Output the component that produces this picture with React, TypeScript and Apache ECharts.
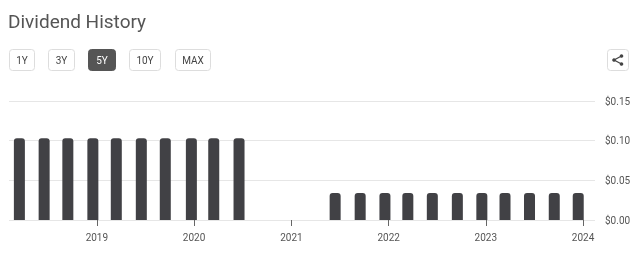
import React, { useEffect, useRef } from "react";
import * as echarts from "echarts";

const dates = [
  "2018-03-16", "2018-06-17", "2018-09-14", "2018-12-17",
  "2019-03-15", "2019-06-17", "2019-09-15", "2019-12-22",
  "2020-03-15", "2020-06-18",
  "2021-06-14", "2021-09-16", "2021-12-18",
  "2022-03-14", "2022-06-14", "2022-09-16", "2022-12-17",
  "2023-03-14", "2023-06-14", "2023-09-15", "2023-12-14",
];
const amounts = [
  0.103, 0.103, 0.103, 0.103,
  0.103, 0.103, 0.103, 0.103,
  0.103, 0.103,
  0.034, 0.034, 0.034,
  0.034, 0.034, 0.034, 0.034,
  0.034, 0.034, 0.034, 0.034,
];
const yearTicks = ["2019-01-01", "2020-01-01", "2021-01-01", "2022-01-01", "2023-01-01", "2024-01-01"];
const rangeButtons = ["1Y", "3Y", "5Y", "10Y", "MAX"];
const activeRange = "5Y";
const axisMin = "2018-02-05";
const axisMax = "2024-02-15";

const FONT = "Roboto, 'Noto Sans', sans-serif";

export default function App() {
  const ref = useRef<HTMLDivElement>(null);
  useEffect(() => {
    if (!ref.current) return;
    const chart = echarts.init(ref.current, undefined, { renderer: "svg" });
    const ts = (d: string) => new Date(d + "T00:00:00Z").getTime();
    const btnX = [9, 48, 88, 129, 175];
    const btnW = [25, 26, 27, 31, 35];
    const buttons: any[] = [];
    rangeButtons.forEach((b, i) => {
      const active = b === activeRange;
      buttons.push({
        type: "rect",
        shape: { x: btnX[i] + 0.5, y: 49.5, width: btnW[i], height: 21, r: 3 },
        style: { fill: active ? "#555555" : "#ffffff", stroke: active ? "#555555" : "#dddddd", lineWidth: 1 },
      });
      buttons.push({
        type: "text",
        x: btnX[i] + 0.5 + btnW[i] / 2,
        y: 60,
        style: {
          text: b,
          fill: active ? "#ffffff" : "#444444",
          font: `10px ${FONT}`,
          align: "center",
          verticalAlign: "middle",
        },
      });
    });
    const share: any[] = [
      { type: "rect", shape: { x: 607.5, y: 49.5, width: 21, height: 21, r: 3 }, style: { fill: "#fff", stroke: "#dddddd", lineWidth: 1 } },
      { type: "line", shape: { x1: 614, y1: 60, x2: 621.5, y2: 56 }, style: { stroke: "#444", lineWidth: 1.2 } },
      { type: "line", shape: { x1: 614, y1: 60, x2: 621.5, y2: 64 }, style: { stroke: "#444", lineWidth: 1.2 } },
      { type: "circle", shape: { cx: 614, cy: 60, r: 1.8 }, style: { fill: "#444" } },
      { type: "circle", shape: { cx: 621.5, cy: 56, r: 1.8 }, style: { fill: "#444" } },
      { type: "circle", shape: { cx: 621.5, cy: 64, r: 1.8 }, style: { fill: "#444" } },
    ];
    chart.setOption({
      animation: false,
      textStyle: { fontFamily: FONT },
      graphic: [
        {
          type: "text",
          x: 8,
          y: 21,
          style: { text: "Dividend History", fill: "#555555", font: `19px ${FONT}`, verticalAlign: "middle" },
        },
        ...buttons,
        ...share,
      ],
      grid: { left: 9, right: 45, top: 101, bottom: 37 },
      xAxis: {
        type: "value",
        min: ts(axisMin),
        max: ts(axisMax),
        axisLine: { show: false },
        axisTick: {
          show: true,
          customValues: yearTicks.map(ts),
          length: 6,
          lineStyle: { color: "#666666", width: 1 },
        },
        axisLabel: {
          customValues: yearTicks.map(ts),
          formatter: (v: number) => String(new Date(v).getUTCFullYear()),
          color: "#555555",
          fontSize: 10,
          margin: 12,
        },
        splitLine: { show: false },
      },
      yAxis: {
        type: "value",
        position: "right",
        min: 0,
        max: 0.15,
        interval: 0.05,
        axisLine: { show: false },
        axisTick: { show: false },
        axisLabel: {
          formatter: (v: number) => "$" + v.toFixed(2),
          color: "#555555",
          fontSize: 10,
          margin: 10,
        },
        splitLine: { lineStyle: { color: "#e6e6e6", width: 1 } },
      },
      series: [
        {
          type: "bar",
          data: dates.map((d, i) => [ts(d), amounts[i]]),
          barWidth: 11,
          itemStyle: { color: "#414145", borderRadius: [3, 3, 0, 0] },
        },
      ],
    });
    return () => chart.dispose();
  }, []);
  return <div ref={ref} style={{ position: "fixed", left: 0, top: 0, width: 640, height: 257 }} />;
}
